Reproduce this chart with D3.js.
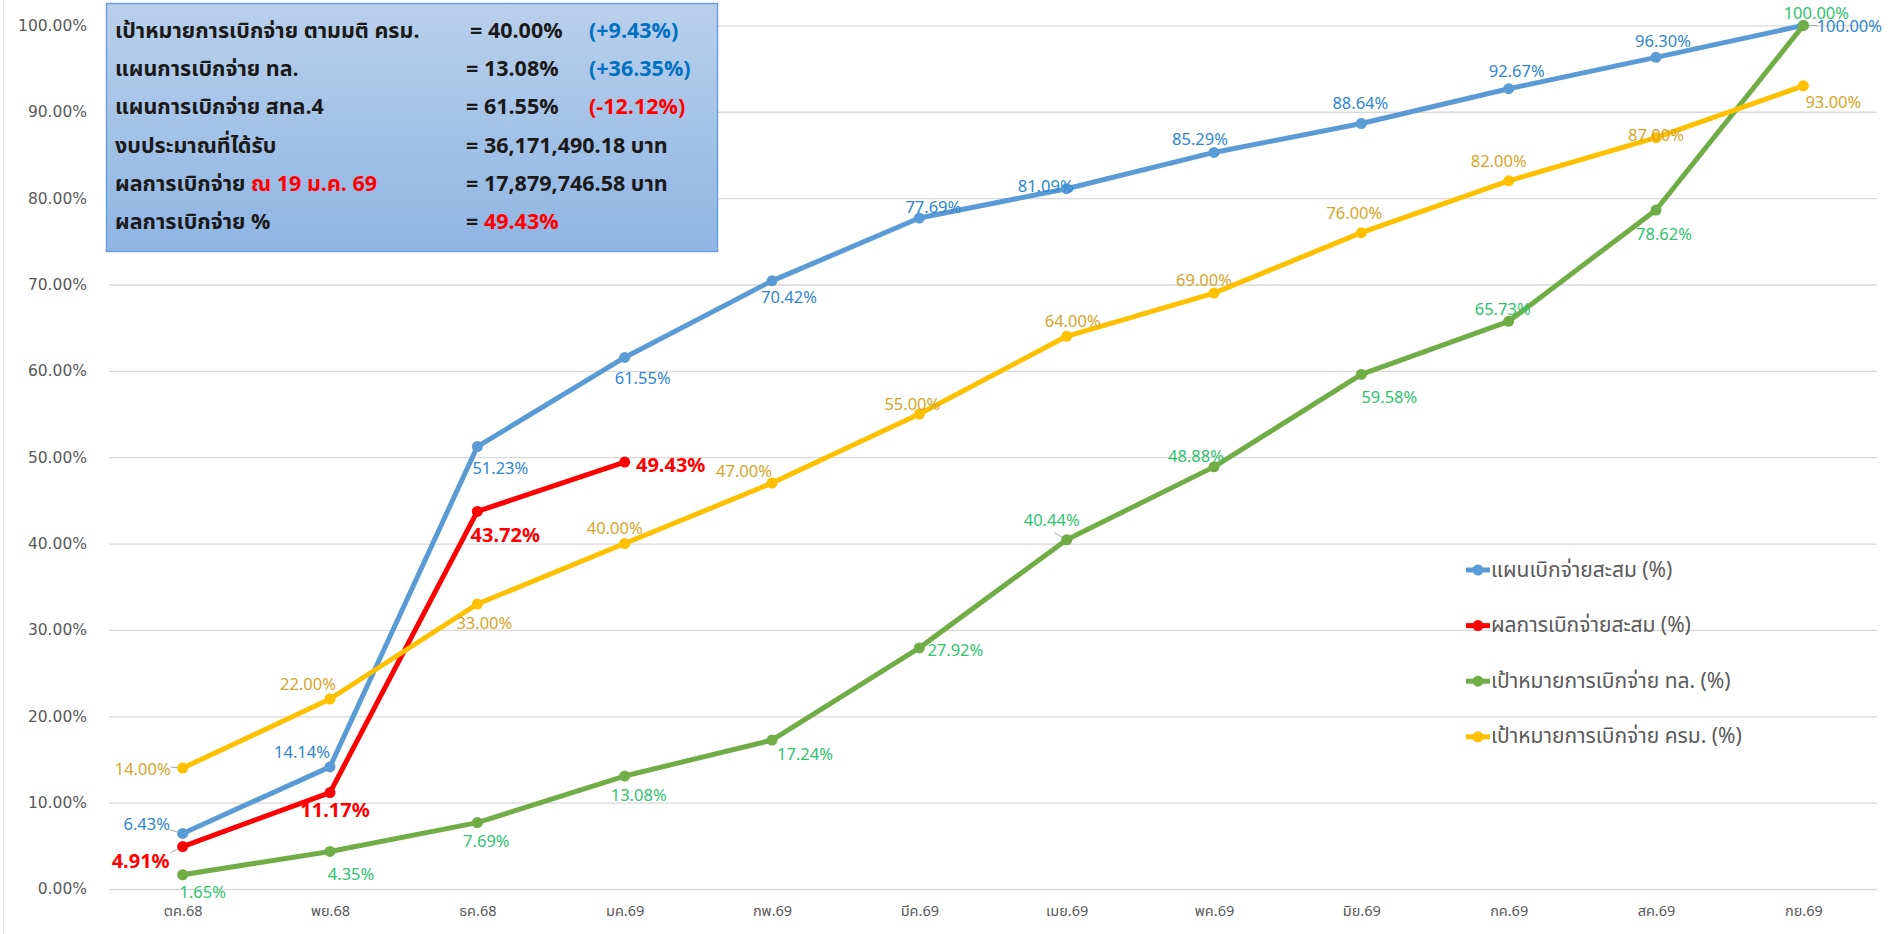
<!DOCTYPE html>
<html>
<head>
<meta charset="utf-8">
<script src="https://cdn.jsdelivr.net/npm/d3@7"></script>
<style>
  html, body { margin: 0; padding: 0; background: #fff; }
  svg { display: block; }
  text { font-family: Tahoma, "Leelawadee UI", "Noto Sans Thai", "Noto Sans", sans-serif; }
</style>
</head>
<body>
<div id="chart"></div>
<script>
// ---- data ----
const months = ['ตค.68', 'พย.68', 'ธค.68', 'มค.69', 'กพ.69', 'มีค.69', 'เมย.69', 'พค.69', 'มิย.69', 'กค.69', 'สค.69', 'กย.69'];
const planCum = [6.43, 14.14, 51.23, 61.55, 70.42, 77.69, 81.09, 85.29, 88.64, 92.67, 96.30, 100.00];
const actualCum = [4.91, 11.17, 43.72, 49.43];
const targetDept = [1.65, 4.35, 7.69, 13.08, 17.24, 27.92, 40.44, 48.88, 59.58, 65.73, 78.62, 100.00];
const targetCabinet = [14.00, 22.00, 33.00, 40.00, 47.00, 55.00, 64.00, 69.00, 76.00, 82.00, 87.00, 93.00];
const yTicks = [0, 10, 20, 30, 40, 50, 60, 70, 80, 90, 100];
const seriesNames = ['แผนเบิกจ่ายสะสม (%)', 'ผลการเบิกจ่ายสะสม (%)', 'เป้าหมายการเบิกจ่าย ทล. (%)', 'เป้าหมายการเบิกจ่าย ครม. (%)'];

const infoLabels = ['เป้าหมายการเบิกจ่าย ตามมติ ครม.', 'แผนการเบิกจ่าย ทล.', 'แผนการเบิกจ่าย สทล.4', 'งบประมาณที่ได้รับ', 'ผลการเบิกจ่าย', 'ผลการเบิกจ่าย %'];
const infoDates = ['', '', '', '', 'ณ 19 ม.ค. 69', ''];
const infoValues = ['40.00%', '13.08%', '61.55%', '36,171,490.18 บาท', '17,879,746.58 บาท', '49.43%'];
const infoDiffs = ['(+9.43%)', '(+36.35%)', '(-12.12%)', '', '', ''];

// label placement (offset of label centre from point)
const planOffsets = [[-36, -10], [-28, -15], [23, 21], [18, 20], [17, 16], [14, -12], [-21, -3], [-14, -14], [-1, -21], [8, -18], [7, -17], [46, 0]];
const actualOffsets = [[-42, 14], [5, 17], [28, 23], [46, 2]];
const deptOffsets = [[20, 17], [21, 22], [9, 18], [14, 18], [33, 13], [36, 2], [-15, -20], [-18, -11], [28, 22], [-6, -13], [8, 23], [13, -13]];
const cabOffsets = [[-40, 0], [-22, -16], [7, 18], [-10, -16], [-28, -13], [-7, -11], [6, -16], [-10, -14], [-7, -20], [-10, -20], [0, -3], [30, 16]];

const W = 1896, H = 934;
const margin = {top: 25.4, right: 19, bottom: 45, left: 109};

const svg = d3.select('#chart').append('svg')
    .attr('width', W)
    .attr('height', H);

const x = d3.scalePoint()
    .domain(months)
    .range([margin.left, W - margin.right])
    .padding(0.5);

const y = d3.scaleLinear()
    .domain([0, 100])
    .range([H - margin.bottom, margin.top]);

// chart border (left edge)
svg.append('line')
    .attr('x1', 3.5).attr('x2', 3.5).attr('y1', 0).attr('y2', H)
    .attr('stroke', '#e3e3e3');

// gridlines + y labels
const yAxis = svg.append('g')
    .classed('y-axis', true)
    .attr('transform', `translate(${margin.left},0)`)
    .call(d3.axisLeft(y).tickValues(yTicks)
        .tickSize(-(W - margin.left - margin.right))
        .tickPadding(22)
        .tickFormat(d => d.toFixed(2) + '%'));
yAxis.select('.domain').remove();
yAxis.selectAll('line').attr('stroke', '#d9d9d9').attr('stroke-width', 1.3);
yAxis.selectAll('text')
    .attr('fill', '#595959')
    .style('font-family', '"DejaVu Sans", Verdana, sans-serif')
    .style('font-size', '15.5px');

// x labels
const xAxis = svg.append('g')
    .classed('x-axis', true)
    .attr('transform', `translate(0,${H - margin.bottom})`)
    .call(d3.axisBottom(x).tickSize(0).tickPadding(17));
xAxis.select('.domain').remove();
xAxis.selectAll('text')
    .attr('fill', '#595959')
    .style('font-size', '14.5px');

// series
const series = [
    {values: planCum, color: '#5b9bd5', labelColor: '#2e86d1', offsets: planOffsets, bold: false},
    {values: actualCum, color: '#ff0000', labelColor: '#ff0000', offsets: actualOffsets, bold: true},
    {values: targetDept, color: '#70ad47', labelColor: '#2ec46e', offsets: deptOffsets, bold: false},
    {values: targetCabinet, color: '#ffc000', labelColor: '#d4a52a', offsets: cabOffsets, bold: false}
];

const line = d3.line()
    .x((d, i) => x(months[i]))
    .y(d => y(d));

series.forEach(s => {
    svg.append('path')
        .attr('d', line(s.values))
        .attr('fill', 'none')
        .attr('stroke', s.color)
        .attr('stroke-width', 5)
        .attr('stroke-linejoin', 'round');
    svg.append('g').selectAll('circle')
        .data(s.values)
        .join('circle')
        .attr('cx', (d, i) => x(months[i]))
        .attr('cy', d => y(d))
        .attr('r', 5.5)
        .attr('fill', s.color);
});

// leader lines for labels pulled away from their points
const leaders = [
    [planCum, 0, -14, -4], [actualCum, 0, -12, 6], [targetCabinet, 0, -12, -1],
    [targetDept, 6, -12, -7], [planCum, 11, 14, 0]
];
leaders.forEach(([vals, i, dx, dy]) => {
    const px = x(months[i]), py = y(vals[i]);
    svg.append('line')
        .attr('x1', px + dx * 0.4).attr('y1', py + dy * 0.4)
        .attr('x2', px + dx).attr('y2', py + dy)
        .attr('stroke', '#a6a6a6').attr('stroke-width', 1);
});

// data labels
series.forEach(s => {
    svg.append('g').selectAll('text')
        .data(s.values)
        .join('text')
        .attr('x', (d, i) => x(months[i]) + s.offsets[i][0])
        .attr('y', (d, i) => y(d) + s.offsets[i][1])
        .attr('text-anchor', 'middle')
        .attr('dominant-baseline', 'central')
        .attr('fill', s.labelColor)
        .style('font-family', '"Noto Sans", sans-serif')
        .style('font-size', s.bold ? '20px' : '16.5px')
        .style('font-weight', s.bold ? 'bold' : 'normal')
        .text(d => d.toFixed(2) + '%');
});

// legend
const legend = svg.append('g').attr('transform', 'translate(1466,570)');
const legendItems = legend.selectAll('g')
    .data(seriesNames)
    .join('g')
    .attr('transform', (d, i) => `translate(0,${i * 55.6})`);
legendItems.append('line')
    .attr('x1', 0).attr('x2', 24)
    .attr('stroke', (d, i) => series[i].color)
    .attr('stroke-width', 5);
legendItems.append('circle')
    .attr('cx', 12).attr('r', 5.5)
    .attr('fill', (d, i) => series[i].color);
legendItems.append('text')
    .attr('x', 25)
    .attr('dominant-baseline', 'central')
    .attr('fill', '#595959')
    .style('font-size', '21px')
    .text(d => d);

// info box
const defs = svg.append('defs');
const grad = defs.append('linearGradient')
    .attr('id', 'boxFill')
    .attr('x1', 0).attr('y1', 0).attr('x2', 0).attr('y2', 1);
grad.append('stop').attr('offset', '0%').attr('stop-color', '#b9d0eb');
grad.append('stop').attr('offset', '100%').attr('stop-color', '#8fb5e3');

const box = svg.append('g').classed('info', true);
box.append('rect')
    .attr('x', 106.5).attr('y', 3.5)
    .attr('width', 611).attr('height', 248)
    .attr('fill', 'url(#boxFill)')
    .attr('stroke', '#6d9fd8')
    .attr('stroke-width', 1.5);

const rows = box.selectAll('g.row')
    .data(infoLabels)
    .join('g')
    .classed('row', true)
    .attr('transform', (d, i) => `translate(0,${31 + i * 38.2})`)
    .style('font-size', '21.5px')
    .style('font-weight', 'bold');

const lbl = rows.append('text')
    .attr('x', 115)
    .attr('dominant-baseline', 'central')
    .attr('fill', '#1a1a1a');
lbl.append('tspan').text(d => d);
lbl.append('tspan')
    .attr('fill', '#ff0000')
    .text((d, i) => infoDates[i] ? ' ' + infoDates[i] : '');

const val = rows.append('text')
    .attr('x', (d, i) => i === 0 ? 470 : 466)
    .attr('dominant-baseline', 'central')
    .attr('fill', '#1a1a1a');
val.append('tspan').text('= ');
val.append('tspan')
    .attr('fill', (d, i) => i === 5 ? '#ff0000' : '#1a1a1a')
    .text((d, i) => infoValues[i]);

rows.append('text')
    .attr('x', 589)
    .attr('dominant-baseline', 'central')
    .attr('fill', (d, i) => infoDiffs[i].startsWith('(-') ? '#ff0000' : '#0070c0')
    .text((d, i) => infoDiffs[i]);
</script>
</body>
</html>
